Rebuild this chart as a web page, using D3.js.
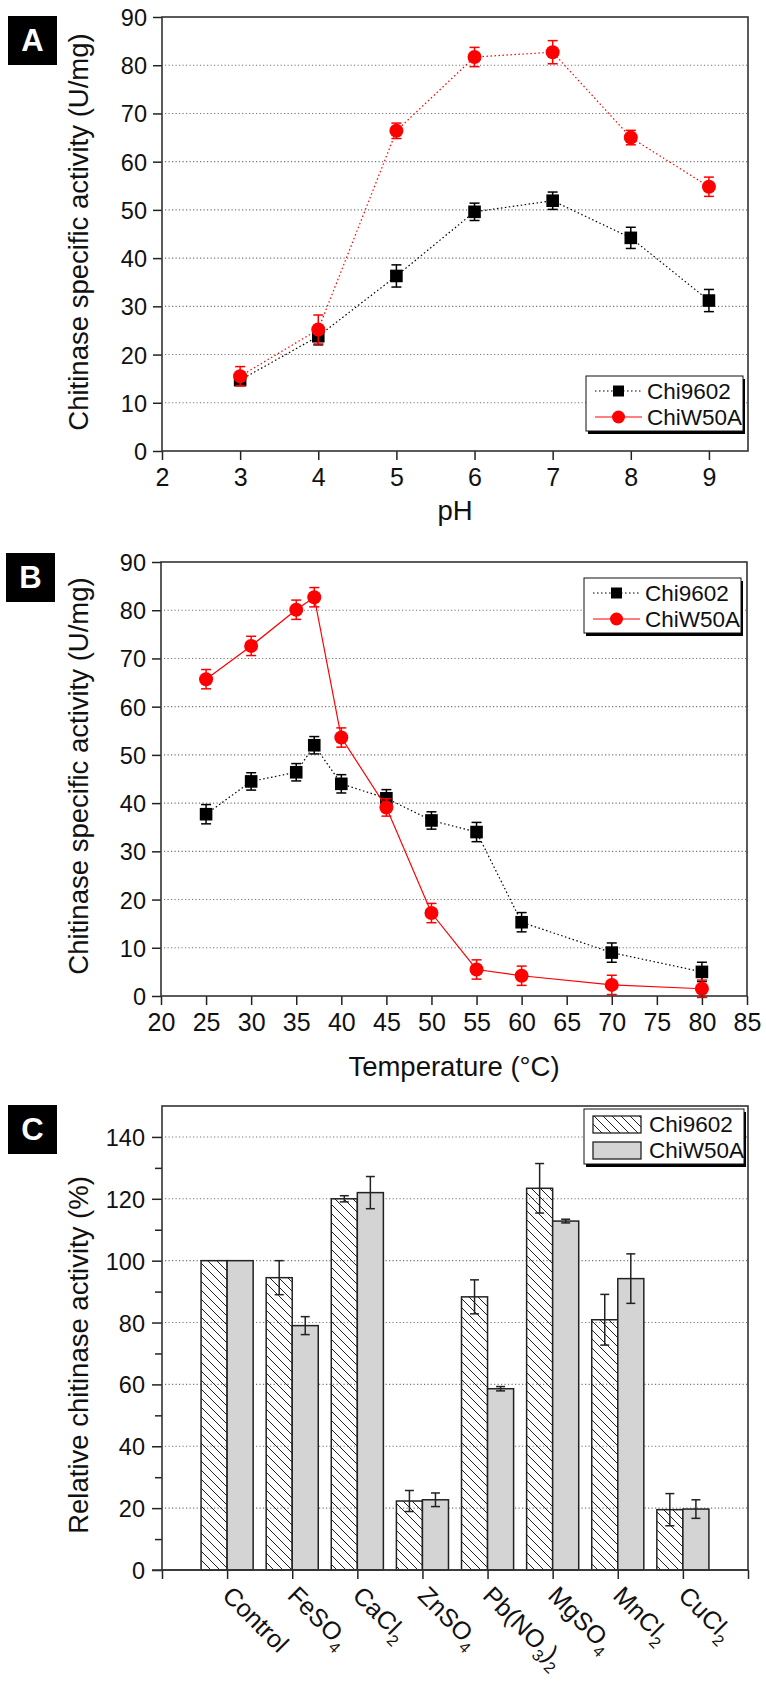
<!DOCTYPE html>
<head>
  <meta http-equiv="Content-Type" content="text/html; charset=utf-8">
  <style>
    body { margin: 0; background: #fff; }
    text { font-family: "Liberation Sans", Arial, sans-serif; fill: #111; }
  </style>
</head>
<body></body>
<script src="https://d3js.org/d3.v7.min.js"></script>
<script>

var width = 766,
    height = 1682;

// Panel A: pH
var phX = [3, 4, 5, 6, 7, 8, 9];
var phChi9602 = [14.7, 23.8, 36.3, 49.6, 51.9, 44.2, 31.2];
var phChi9602Err = [1.0, 1.8, 2.3, 1.8, 1.8, 2.2, 2.3];
var phChiW50A = [15.5, 25.2, 66.4, 81.7, 82.7, 65.0, 54.8];
var phChiW50AErr = [2.0, 3.0, 1.6, 2.0, 2.4, 1.5, 2.0];
var phTicks = [2, 3, 4, 5, 6, 7, 8, 9];

// Panel B: temperature
var tempX = [25, 30, 35, 37, 40, 45, 50, 55, 60, 70, 80];
var tempChi9602 = [37.7, 44.5, 46.4, 52.0, 44.0, 41.0, 36.4, 34.0, 15.3, 9.0, 5.0];
var tempChi9602Err = [2.0, 1.8, 1.8, 1.8, 1.9, 1.8, 1.8, 2.0, 2.0, 2.0, 2.0];
var tempChiW50A = [65.7, 72.6, 80.1, 82.7, 53.6, 39.1, 17.2, 5.5, 4.2, 2.3, 1.5];
var tempChiW50AErr = [2.0, 2.0, 2.0, 2.0, 2.0, 1.8, 2.0, 2.0, 2.0, 2.0, 1.8];
var tempTicks = [20, 25, 30, 35, 40, 45, 50, 55, 60, 65, 70, 75, 80, 85];

var activityTicks = [0, 10, 20, 30, 40, 50, 60, 70, 80, 90];

// Panel C: metal ions (_n marks a subscript)
var ions = ["Control", "FeSO_4", "CaCl_2", "ZnSO_4", "Pb(NO_3)_2", "MgSO_4", "MnCl_2", "CuCl_2"];
var ionChi9602 = [100, 94.5, 120.0, 22.3, 88.3, 123.4, 80.9, 19.5];
var ionChi9602Err = [0, 5.5, 1.0, 3.4, 5.5, 8.0, 8.2, 5.2];
var ionChiW50A = [100, 79.0, 122.0, 22.7, 58.6, 112.8, 94.2, 19.7];
var ionChiW50AErr = [0, 2.9, 5.2, 2.2, 0.7, 0.6, 8.0, 3.0];
var relTicks = [0, 20, 40, 60, 80, 100, 120, 140];
var relMinor = [10, 30, 50, 70, 90, 110, 130];

var seriesNames = ["Chi9602", "ChiW50A"];

var svg = d3.select("body").append("svg")
    .attr("width", width)
    .attr("height", height);

var defs = svg.append("defs");
defs.append("pattern")
    .attr("id", "hatch")
    .attr("patternUnits", "userSpaceOnUse")
    .attr("width", 9).attr("height", 9)
  .append("path")
    .attr("d", "M0,0 L9,9 M-4.5,4.5 L4.5,13.5 M4.5,-4.5 L13.5,4.5")
    .attr("stroke", "#222")
    .attr("stroke-width", 1);

function panelLabel(letter, x, y) {
  svg.append("rect").attr("x", x).attr("y", y).attr("width", 49).attr("height", 49).attr("fill", "#000");
  svg.append("text").attr("x", x + 24.5).attr("y", y + 35)
    .attr("text-anchor", "middle").attr("font-size", 31).attr("font-weight", "bold")
    .style("fill", "#fff").text(letter);
}

function yTitle(txt, cy) {
  svg.append("text")
    .attr("transform", "translate(88," + cy + ") rotate(-90)")
    .attr("text-anchor", "middle").attr("font-size", 27.5).text(txt);
}

function styleAxis(g, fs) {
  g.select(".domain").remove();
  g.selectAll(".tick line").attr("stroke", "#222").attr("stroke-width", 1.5);
  g.selectAll(".tick text").attr("font-size", fs).style("font-family", "Liberation Sans, Arial").style("fill", "#111");
}

function grid(g, ys, vals, x0, x1) {
  g.selectAll(".grid").data(vals).enter().append("line")
    .attr("x1", x0 + 3).attr("x2", x1 - 1)
    .attr("y1", function(d){return ys(d);}).attr("y2", function(d){return ys(d);})
    .attr("stroke", "#777").attr("stroke-width", 1.1).attr("stroke-dasharray", "1.2,2.3");
}

function frame(x0, x1, y0, y1) {
  svg.append("rect").attr("x", x0).attr("y", y0).attr("width", x1 - x0).attr("height", y1 - y0)
    .attr("fill", "none").attr("stroke", "#333").attr("stroke-width", 1.6);
}

function legendBox(x, y, w, h) {
  svg.append("rect").attr("x", x + 2).attr("y", y + 3).attr("width", w).attr("height", h).attr("fill", "#000");
  svg.append("rect").attr("x", x).attr("y", y).attr("width", w).attr("height", h)
    .attr("fill", "#fff").attr("stroke", "#111").attr("stroke-width", 1);
}

function linePanel(p) {
  var xs = d3.scaleLinear().domain(p.xDomain).range([p.x0, p.x1]);
  var ys = d3.scaleLinear().domain([0, 90]).range([p.y1, p.y0]);
  var g = svg.append("g");

  grid(g, ys, activityTicks.slice(1, 9), p.x0, p.x1);

  var ax = g.append("g").attr("transform", "translate(0," + p.y1 + ")")
    .call(d3.axisBottom(xs).tickValues(p.xTicks).tickSize(9).tickPadding(8).tickFormat(d3.format("d")));
  styleAxis(ax, 25);
  var ay = g.append("g").attr("transform", "translate(" + p.x0 + ",0)")
    .call(d3.axisLeft(ys).tickValues(activityTicks).tickSize(9).tickPadding(6).tickFormat(d3.format("d")));
  styleAxis(ay, 23.5);
  ay.selectAll(".tick text").attr("dy", "0.36em");
  frame(p.x0, p.x1, p.y0, p.y1);

  var series = [
    {vals: p.a, err: p.aErr, color: "#000", dash: "1.5,2.5", shape: "square"},
    {vals: p.b, err: p.bErr, color: "#f00", dash: p.redDash, shape: "circle"}
  ];
  series.forEach(function(s) {
    var pts = p.x.map(function(x, i){ return {x: x, y: s.vals[i], e: s.err[i]}; });
    g.append("path").datum(pts)
      .attr("d", d3.line().x(function(d){return xs(d.x);}).y(function(d){return ys(d.y);}))
      .attr("fill", "none").attr("stroke", s.color).attr("stroke-width", 1.2)
      .attr("stroke-dasharray", s.dash);
    var eb = g.append("g").attr("stroke", s.color).attr("stroke-width", 1.5);
    pts.forEach(function(d) {
      var cx = xs(d.x);
      eb.append("line").attr("x1", cx).attr("x2", cx).attr("y1", ys(d.y - d.e)).attr("y2", ys(d.y + d.e));
      eb.append("line").attr("x1", cx - 5).attr("x2", cx + 5).attr("y1", ys(d.y - d.e)).attr("y2", ys(d.y - d.e));
      eb.append("line").attr("x1", cx - 5).attr("x2", cx + 5).attr("y1", ys(d.y + d.e)).attr("y2", ys(d.y + d.e));
    });
    if (s.shape == "square") {
      g.selectAll(null).data(pts).enter().append("rect")
        .attr("x", function(d){return xs(d.x) - 6.3;}).attr("y", function(d){return ys(d.y) - 6.3;})
        .attr("width", 12.6).attr("height", 12.6).attr("fill", "#000");
    } else {
      g.selectAll(null).data(pts).enter().append("circle")
        .attr("cx", function(d){return xs(d.x);}).attr("cy", function(d){return ys(d.y);})
        .attr("r", 7).attr("fill", "#f00");
    }
  });

  // x title
  svg.append("text").attr("x", (p.x0 + p.x1) / 2).attr("y", p.titleY)
    .attr("text-anchor", "middle").attr("font-size", 27.5).text(p.xTitle);

  // legend
  var lx = p.legend[0], ly = p.legend[1];
  legendBox(lx, ly, 157, 55);
  var r1 = ly + 15, r2 = ly + 41;
  svg.append("line").attr("x1", lx + 9).attr("x2", lx + 56).attr("y1", r1).attr("y2", r1)
    .attr("stroke", "#000").attr("stroke-width", 1.2).attr("stroke-dasharray", "1.5,2.5");
  svg.append("rect").attr("x", lx + 32.5 - 5.5).attr("y", r1 - 5.5).attr("width", 11).attr("height", 11).attr("fill", "#000");
  svg.append("line").attr("x1", lx + 9).attr("x2", lx + 56).attr("y1", r2).attr("y2", r2)
    .attr("stroke", "#f00").attr("stroke-width", 1.2);
  svg.append("circle").attr("cx", lx + 32.5).attr("cy", r2).attr("r", 6.5).attr("fill", "#f00");
  svg.append("text").attr("x", lx + 61).attr("y", r1 + 8).attr("font-size", 22.5).text(seriesNames[0]);
  svg.append("text").attr("x", lx + 61).attr("y", r2 + 8).attr("font-size", 22.5).text(seriesNames[1]);
}

// ---- Panel A
panelLabel("A", 8, 16);
yTitle("Chitinase specific activity (U/mg)", 232);
linePanel({
  x0: 162, x1: 748, y0: 17, y1: 451,
  xDomain: [2, 9.5], xTicks: phTicks,
  x: phX, a: phChi9602, aErr: phChi9602Err, b: phChiW50A, bErr: phChiW50AErr,
  redDash: "1.5,2.5", xTitle: "pH", titleY: 520, legend: [586, 376]
});

// ---- Panel B
panelLabel("B", 6, 553);
yTitle("Chitinase specific activity (U/mg)", 776);
linePanel({
  x0: 161, x1: 747, y0: 562, y1: 996,
  xDomain: [20, 85], xTicks: tempTicks,
  x: tempX, a: tempChi9602, aErr: tempChi9602Err, b: tempChiW50A, bErr: tempChiW50AErr,
  redDash: null, xTitle: "Temperature (\u00B0C)", titleY: 1076, legend: [584, 578]
});

// ---- Panel C
panelLabel("C", 8, 1105);
yTitle("Relative chitinase activity (%)", 1355);

var cx0 = 162, cx1 = 748, cy0 = 1106, cy1 = 1570;
var xc = d3.scaleLinear().domain([0, ions.length + 1]).range([cx0, cx1]);
var yc = d3.scaleLinear().domain([0, 150]).range([cy1, cy0]);
var gc = svg.append("g");

grid(gc, yc, relTicks.slice(1), cx0, cx1);

var bw = xc(0.4) - xc(0);
var groups = [
  {vals: ionChi9602, err: ionChi9602Err, fill: "url(#hatch)", off: -bw},
  {vals: ionChiW50A, err: ionChiW50AErr, fill: "#d4d4d4", off: 0}
];
groups.forEach(function(s) {
  gc.selectAll(null).data(s.vals).enter().append("rect")
    .attr("x", function(d, i){return xc(i + 1) + s.off;})
    .attr("y", function(d){return yc(d);})
    .attr("width", bw).attr("height", function(d){return yc(0) - yc(d);})
    .attr("fill", s.fill).attr("stroke", "#222").attr("stroke-width", 1.5);
});
groups.forEach(function(s) {
  var eb = gc.append("g").attr("stroke", "#222").attr("stroke-width", 1.5);
  s.vals.forEach(function(v, i) {
    if (!s.err[i]) return;
    var cx = xc(i + 1) + s.off + bw / 2;
    eb.append("line").attr("x1", cx).attr("x2", cx).attr("y1", yc(v - s.err[i])).attr("y2", yc(v + s.err[i]));
    eb.append("line").attr("x1", cx - 4.5).attr("x2", cx + 4.5).attr("y1", yc(v - s.err[i])).attr("y2", yc(v - s.err[i]));
    eb.append("line").attr("x1", cx - 4.5).attr("x2", cx + 4.5).attr("y1", yc(v + s.err[i])).attr("y2", yc(v + s.err[i]));
  });
});

var axc = gc.append("g").attr("transform", "translate(0," + cy1 + ")")
  .call(d3.axisBottom(xc).tickValues(d3.range(0, ions.length + 2)).tickSize(9).tickFormat(""));
styleAxis(axc, 22);
var ayc = gc.append("g").attr("transform", "translate(" + cx0 + ",0)")
  .call(d3.axisLeft(yc).tickValues(relTicks).tickSize(10).tickPadding(7).tickFormat(d3.format("d")));
styleAxis(ayc, 23.5);
ayc.selectAll(".tick text").attr("dy", "0.36em");
gc.append("g").attr("transform", "translate(" + cx0 + ",0)")
  .call(d3.axisLeft(yc).tickValues(relMinor).tickSize(7).tickFormat(""))
  .call(function(g){ styleAxis(g, 10); });
frame(cx0, cx1, cy0, cy1);
gc.append("line").attr("x1", cx0 - 10).attr("x2", cx1).attr("y1", cy1).attr("y2", cy1)
  .attr("stroke", "#333").attr("stroke-width", 1.6);

// category labels, rotated, with subscripts
ions.forEach(function(name, i) {
  var t = gc.append("text")
    .attr("transform", "translate(" + (xc(i + 1) - 6) + "," + (cy1 + 27) + ") rotate(45)")
    .attr("font-size", 25);
  var parts = name.split(/(_\d)/).filter(function(s){return s.length;});
  var shifted = false;
  parts.forEach(function(s) {
    if (s[0] == "_") {
      t.append("tspan").attr("font-size", 16).attr("dy", 7).text(s.slice(1));
      shifted = true;
    } else {
      t.append("tspan").attr("dy", shifted ? -7 : 0).text(s);
      shifted = false;
    }
  });
});

// legend C
legendBox(584, 1109, 160, 55);
svg.append("rect").attr("x", 593).attr("y", 1116).attr("width", 48).attr("height", 17)
  .attr("fill", "url(#hatch)").attr("stroke", "#222").attr("stroke-width", 1.3);
svg.append("rect").attr("x", 593).attr("y", 1142).attr("width", 48).attr("height", 17)
  .attr("fill", "#d4d4d4").attr("stroke", "#222").attr("stroke-width", 1.3);
svg.append("text").attr("x", 649).attr("y", 1132).attr("font-size", 22.5).text(seriesNames[0]);
svg.append("text").attr("x", 649).attr("y", 1158).attr("font-size", 22.5).text(seriesNames[1]);

</script>
</html>
